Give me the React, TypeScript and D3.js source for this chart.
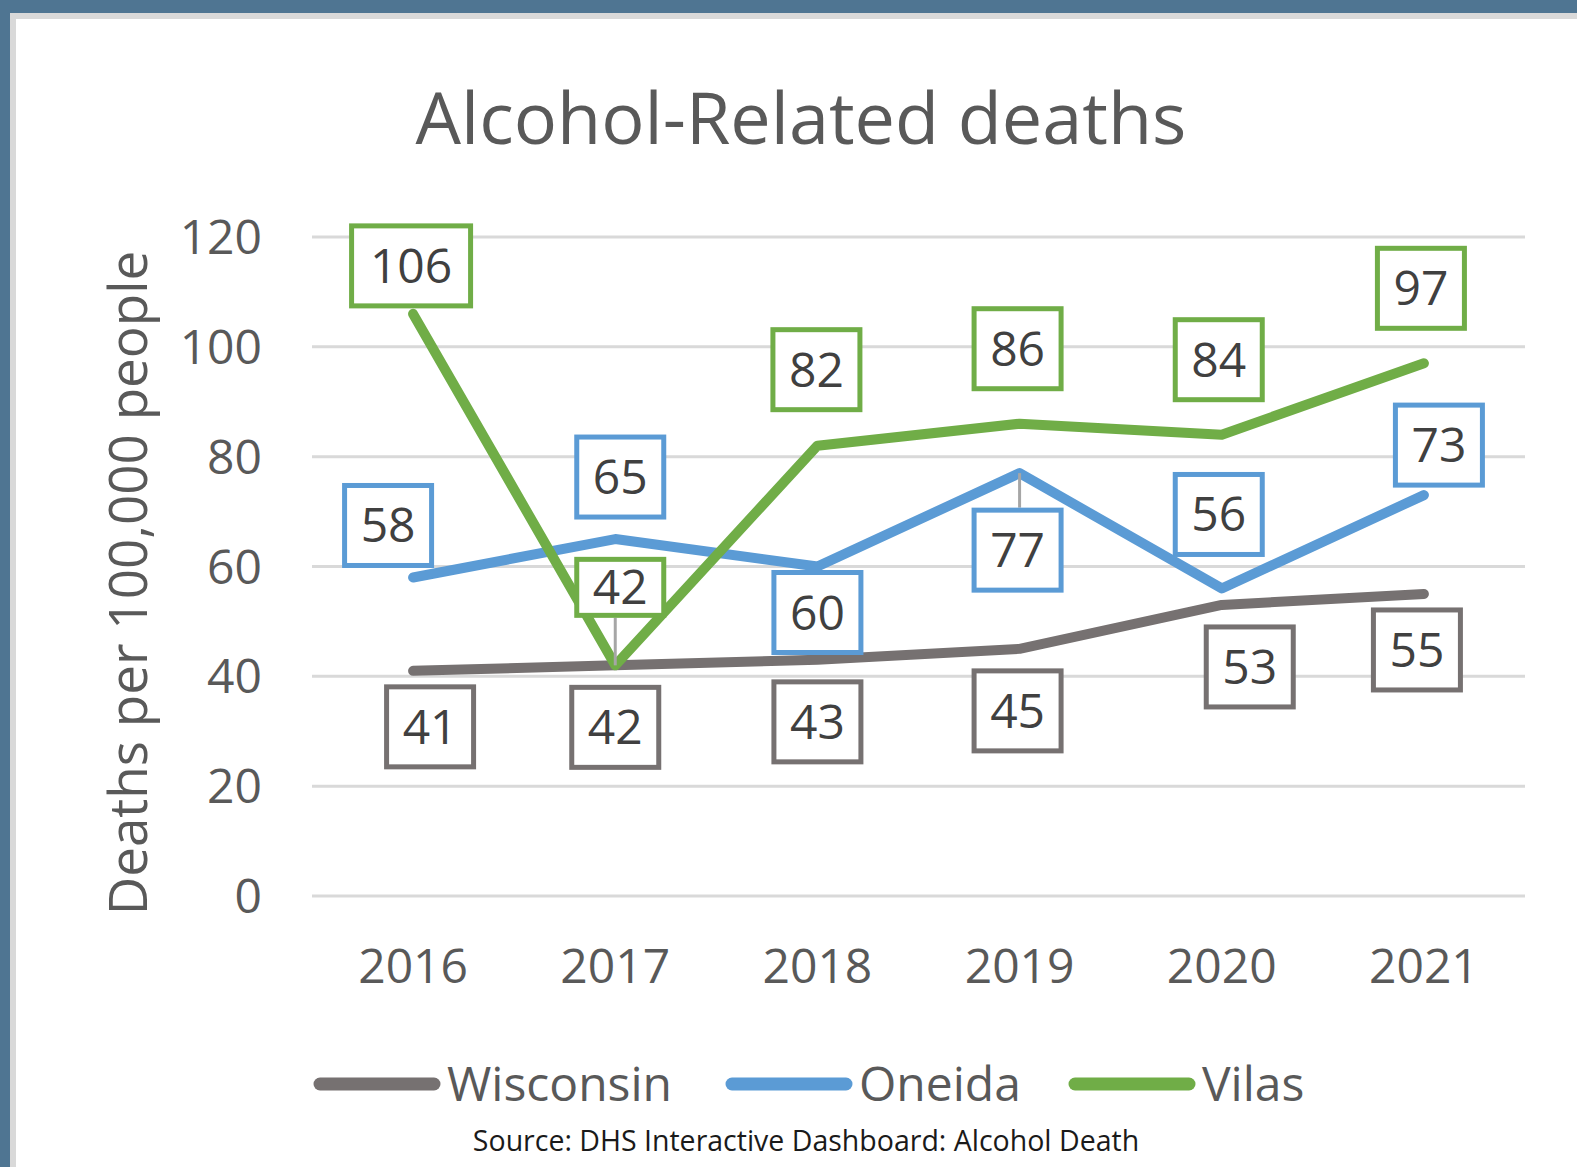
import React from 'react';
import * as d3 from 'd3';

const years = ['2016', '2017', '2018', '2019', '2020', '2021'];
const wisconsin = [41, 42, 43, 45, 53, 55];
const oneida = [58, 65, 60, 77, 56, 73];
const vilas = [106, 42, 82, 86, 84, 97];
const yTicks = [0, 20, 40, 60, 80, 100, 120];

// label box placement, offset of the box centre from its point (as laid out by hand in the original)
const wisconsinLabels = [[17, 56], [0, 62], [0, 62], [-2, 62], [28, 62], [-7, 56]];
const oneidaLabels = [[-25, -52], [5, -62], [0, 46], [-2, 77, 'leader'], [-3, -74], [15, -50]];
const vilasLabels = [[-2, -48], [5, -78, 'leader', 61], [-1, -76], [-2, -75], [-3, -75], [-3, -75]];

const series = [
  { name: 'Wisconsin', values: wisconsin, color: '#767171', labels: wisconsinLabels },
  { name: 'Oneida', values: oneida, color: '#5b9bd5', labels: oneidaLabels },
  { name: 'Vilas', values: vilas, color: '#70ad47', labels: vilasLabels },
];

const W = 1577;
const H = 1167;
const font = '"Open Sans", "Noto Sans", sans-serif';

const App = () => {
  const x = d3.scaleBand().domain(years).range([312, 1525]).padding(0);
  const cx = (yr: string) => (x(yr) as number) + x.bandwidth() / 2;
  const y = d3.scaleLinear().domain([0, 120]).range([896, 237]);

  const line = d3.line<number>()
    .x((_, i) => cx(years[i]))
    .y(d => y(d));

  const legendX = [314, 726, 1069];

  return (
    <svg width={W} height={H} style={{ position: 'absolute', left: 0, top: 0 }}>
      <rect x={0} y={0} width={W} height={H} fill="#ffffff" />
      {/* frame */}
      <rect x={0} y={0} width={W} height={13} fill="#4f7592" />
      <rect x={0} y={0} width={10} height={H} fill="#4f7592" />
      <rect x={10} y={13} width={W - 10} height={6} fill="#d9d9d9" />
      <rect x={10} y={13} width={6} height={H - 13} fill="#d9d9d9" />

      {/* title */}
      <text x={801} y={144} textAnchor="middle" fontFamily={font} fontSize={72} fill="#595959">
        Alcohol-Related deaths
      </text>

      {/* gridlines + y ticks */}
      {yTicks.map(t => (
        <g key={t}>
          <line x1={312} x2={1525} y1={y(t)} y2={y(t)} stroke="#d9d9d9" strokeWidth={3} />
          <text x={262} y={y(t) + 17} textAnchor="end" fontFamily={font} fontSize={48} fill="#595959">
            {t}
          </text>
        </g>
      ))}

      {/* x labels */}
      {years.map(yr => (
        <text key={yr} x={cx(yr)} y={983} textAnchor="middle" fontFamily={font} fontSize={48} fill="#595959">
          {yr}
        </text>
      ))}

      {/* y axis title */}
      <text
        transform="translate(147,583) rotate(-90)"
        textAnchor="middle"
        fontFamily={font}
        fontSize={53}
        fill="#595959"
      >
        Deaths per 100,000 people
      </text>

      {/* lines */}
      {series.map(s => (
        <path
          key={s.name}
          d={line(s.values) as string}
          fill="none"
          stroke={s.color}
          strokeWidth={10}
          strokeLinejoin="round"
          strokeLinecap="round"
        />
      ))}

      {/* leader lines */}
      {series.map(s =>
        s.values.map((v, i) => {
          const lab = s.labels[i] as any[];
          if (lab[2] !== 'leader') return null;
          const px = cx(years[i]);
          const py = y(v);
          const h = lab[3] || 85;
          const by = py + lab[1] + (lab[1] < 0 ? h / 2 : -h / 2);
          return (
            <line key={s.name + 'l' + i} x1={px} x2={px} y1={py} y2={by} stroke="#a6a6a6" strokeWidth={3} />
          );
        })
      )}

      {/* data labels */}
      {series.map(s =>
        s.values.map((v, i) => {
          const lab = s.labels[i] as any[];
          const bx = cx(years[i]) + lab[0];
          const by = y(v) + lab[1];
          const txt = String(v);
          const w = 32 * txt.length + 28;
          const h = lab[3] || 85;
          return (
            <g key={s.name + i}>
              <rect
                x={bx - w / 2 + 2.5}
                y={by - h / 2 + 2.5}
                width={w - 5}
                height={h - 5}
                fill="#ffffff"
                stroke={s.color}
                strokeWidth={5}
              />
              <text x={bx} y={by + 17} textAnchor="middle" fontFamily={font} fontSize={48} fill="#404040">
                {txt}
              </text>
            </g>
          );
        })
      )}

      {/* legend */}
      {series.map((s, i) => (
        <g key={s.name + 'lg'}>
          <line
            x1={legendX[i] + 6}
            x2={legendX[i] + 120}
            y1={1084}
            y2={1084}
            stroke={s.color}
            strokeWidth={13}
            strokeLinecap="round"
          />
          <text x={legendX[i] + 133} y={1101} fontFamily={font} fontSize={48} fill="#595959">
            {s.name}
          </text>
        </g>
      ))}

      {/* source */}
      <text x={806} y={1151} textAnchor="middle" fontFamily={font} fontSize={28.5} fill="#1a1a1a">
        Source: DHS Interactive Dashboard: Alcohol Death
      </text>
    </svg>
  );
};

export default App;
